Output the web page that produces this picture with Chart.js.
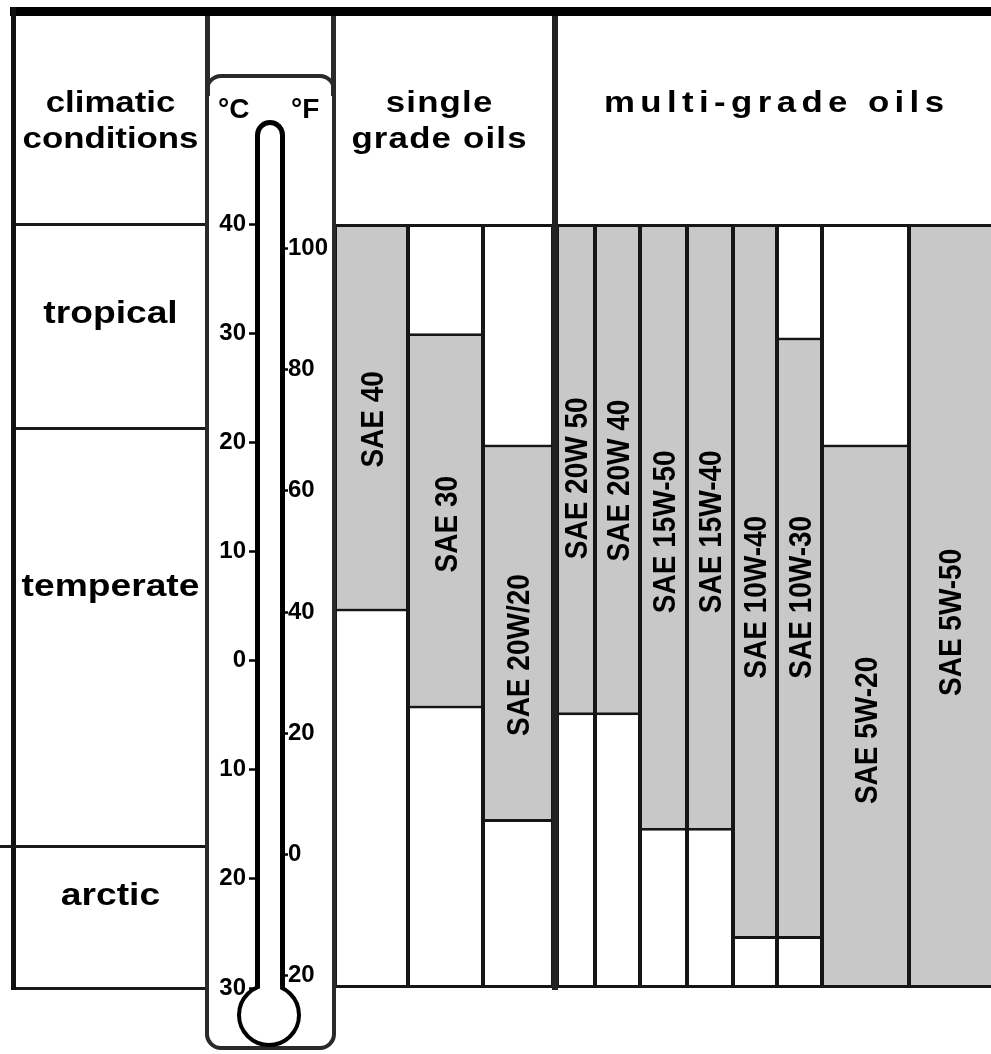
<!DOCTYPE html>
<html>
<head>
<meta charset="utf-8">
<title>Engine oil SAE grades by climatic conditions</title>
<script src="https://cdn.jsdelivr.net/npm/chart.js@4.4.1/dist/chart.umd.min.js"></script>
<style>
  html, body { margin:0; padding:0; background:#fff; }
  #page { position:relative; width:991px; height:1054px; overflow:hidden; background:#fff;
          font-family:"Liberation Sans", Arial, Helvetica, sans-serif; }
  #page canvas { position:absolute; left:0; top:0; }
  .txt { position:absolute; font-weight:bold; color:#000; text-align:center; white-space:nowrap; }
</style>
</head>
<body>
<div id="page">
  <canvas id="oilChart" width="991" height="1054"></canvas>
  <div id="decor"></div>
  <canvas id="thermoChart" width="991" height="1054"></canvas>
  <div id="texts"></div>
</div>
<script>
// ---------------- data ----------------
const grades = ['SAE 40', 'SAE 30', 'SAE 20W/20', 'SAE 20W 50', 'SAE 20W 40', 'SAE 15W-50',
                'SAE 15W-40', 'SAE 10W-40', 'SAE 10W-30', 'SAE 5W-20', 'SAE 5W-50'];
const singleGradeCount = 3;               // first three are single grade oils
const minTempC = [4.5, -4.4, -14.8, -5, -5, -15.6, -15.6, -25.5, -25.5, -30, -30];
const maxTempC = [40, 30, 19.8, 40, 40, 40, 40, 40, 29.6, 19.8, 40];
const celsiusTicks = [40, 30, 20, 10, 0, -10, -20, -30];
const fahrenheitTicks = [100, 80, 60, 40, 20, 0, -20];
const climateZones = ['tropical', 'temperate', 'arctic'];
const zoneBoundsC = [40, 21.3, -17, -30];
const scaleMinC = -30, scaleMaxC = 40;

// ---------------- layout (not data) ----------------
const PAGE_W = 991, PAGE_H = 1054;
const plotBox = { left: 335, top: 224, right: 991, bottom: 988 };
const columnWidths = [73, 75, 70, 38, 45, 47, 46, 44, 45, 87, 82];   // relative column widths
const groupGap = 4;
const labelAnchorC = [22.1, 12.5, 0.5, 16.7, 16.5, 11.8, 11.8, 5.8, 5.8, -6.4, 3.5];
const zoneLabelAnchorC = [31.9, 6.9, -21.4];

const FONT = '"Liberation Sans", Arial, Helvetica, sans-serif';
const GREY = '#c8c8c8';
const LINE = '#161616';
Chart.defaults.font.family = FONT;
Chart.defaults.color = '#000';

// column centres along a linear x axis
let pos = 0;
const centers = [];
columnWidths.forEach((w, i) => {
  if (i === singleGradeCount) pos += groupGap;
  centers.push(pos + w / 2);
  pos += w;
});
const xTotal = pos;
let minGap = xTotal;
for (let i = 1; i < centers.length; i++) minGap = Math.min(minGap, centers[i] - centers[i - 1]);

const datasets = [];
grades.forEach((g, i) => {
  const common = {
    borderColor: LINE,
    borderWidth: { left: 2, right: i === grades.length - 1 ? 0 : 2, top: 3, bottom: 3 },
    borderSkipped: false, grouped: false,
    categoryPercentage: 1, barPercentage: columnWidths[i] / minGap
  };
  datasets.push(Object.assign({
    label: g, gradeIndex: i, order: 0, backgroundColor: GREY,
    data: [{ x: centers[i], y: [minTempC[i], maxTempC[i]] }]
  }, common));
  datasets.push(Object.assign({
    label: g + ' (not suitable)', order: 1, backgroundColor: '#ffffff',
    data: [{ x: centers[i], y: [scaleMinC, scaleMaxC] }]
  }, common));
});

const gradeLabelPlugin = {
  id: 'gradeLabels',
  afterDatasetsDraw(chart) {
    const ctx = chart.ctx;
    const yS = chart.scales.y;
    chart.data.datasets.forEach((ds, di) => {
      if (ds.gradeIndex === undefined) return;
      const el = chart.getDatasetMeta(di).data[0];
      const cy = yS.getPixelForValue(labelAnchorC[ds.gradeIndex]);
      ctx.save();
      ctx.translate(el.x, cy);
      ctx.scale(1.1, 1);
      ctx.rotate(-Math.PI / 2);
      ctx.font = 'bold 28px ' + FONT;
      ctx.fillStyle = '#000';
      ctx.textAlign = 'center';
      ctx.textBaseline = 'alphabetic';
      ctx.fillText(grades[ds.gradeIndex], 0, 10);
      ctx.restore();
    });
  }
};

const oilChart = new Chart(document.getElementById('oilChart'), {
  type: 'bar',
  data: { datasets },
  options: {
    responsive: false, animation: false, events: [],
    layout: { padding: { left: plotBox.left, top: plotBox.top, right: PAGE_W - plotBox.right, bottom: PAGE_H - plotBox.bottom } },
    plugins: { legend: { display: false }, tooltip: { enabled: false } },
    scales: {
      x: { type: 'linear', min: 0, max: xTotal, display: false, offset: false, grid: { offset: false },
           afterBuildTicks: a => { a.ticks = [{ value: a.min }, { value: a.max }]; } },
      y: { type: 'linear', min: scaleMinC, max: scaleMaxC, display: false }
    }
  },
  plugins: [gradeLabelPlugin]
});

// ---------------- thermometer scales ----------------
const cToF = c => c * 9 / 5 + 32;
const tickFont = { size: 24, weight: 'bold', family: FONT };
const thermoChart = new Chart(document.getElementById('thermoChart'), {
  type: 'line',
  data: { datasets: [] },
  options: {
    responsive: false, animation: false, events: [],
    layout: { padding: { left: 205, right: PAGE_W - 336, top: plotBox.top, bottom: PAGE_H - plotBox.bottom } },
    plugins: { legend: { display: false }, tooltip: { enabled: false } },
    scales: {
      x: { type: 'linear', display: false, min: 0, max: 1 },
      yC: {
        type: 'linear', position: 'left', min: scaleMinC, max: scaleMaxC,
        afterBuildTicks: a => { a.ticks = celsiusTicks.map(v => ({ value: v })); },
        afterFit: a => { a.width = 52; },
        border: { display: false },
        grid: { drawOnChartArea: false, drawTicks: true, tickLength: 8, tickWidth: 2.5, tickColor: '#000' },
        ticks: { padding: 3, color: '#000', font: tickFont, autoSkip: false, callback: v => String(Math.abs(v)) }
      },
      yF: {
        type: 'linear', position: 'right', min: cToF(scaleMinC), max: cToF(scaleMaxC),
        afterBuildTicks: a => { a.ticks = fahrenheitTicks.map(v => ({ value: v })); },
        afterFit: a => { a.width = 53; },
        border: { display: false },
        grid: { drawOnChartArea: false, drawTicks: true, tickLength: 5, tickWidth: 2.5, tickColor: '#000' },
        ticks: { padding: 0, color: '#000', font: tickFont, autoSkip: false, callback: v => String(Math.abs(v)) }
      }
    }
  }
});

// ---------------- frame, thermometer body, headers ----------------
const yPx = v => oilChart.scales.y.getPixelForValue(v);
const xPx = v => oilChart.scales.x.getPixelForValue(v);
const decor = document.getElementById('decor');
const texts = document.getElementById('texts');
function el(parent, css, text) {
  const d = document.createElement('div');
  d.style.position = 'absolute';
  for (const k in css) d.style[k] = (typeof css[k] === 'number') ? css[k] + 'px' : css[k];
  if (text !== undefined) { d.className = 'txt'; d.textContent = text; }
  parent.appendChild(d);
  return d;
}

// outer borders
el(decor, { left: 10, top: 7, width: 981, height: 9, background: '#000' });
el(decor, { left: 11, top: 7, width: 5, height: yPx(scaleMinC) + 2 - 7, background: '#111' });
// thermometer column lines and frame
el(decor, { left: 205, top: 16, width: 5, height: 80, background: '#2a2a2a' });
el(decor, { left: 331, top: 16, width: 5, height: 80, background: '#2a2a2a' });
el(decor, { left: 205, top: 74, width: 131, height: 976, border: '4px solid #2a2a2a', borderRadius: '16px', boxSizing: 'border-box' });
// single / multi separator
const sepLeft = xPx(centers[singleGradeCount - 1] + columnWidths[singleGradeCount - 1] / 2);
const sepRight = xPx(centers[singleGradeCount] - columnWidths[singleGradeCount] / 2);
el(decor, { left: sepLeft - 1, top: 16, width: sepRight - sepLeft + 2, height: yPx(scaleMinC) + 2 - 16, background: '#222' });
// climatic zone lines
zoneBoundsC.forEach((b, i) => {
  const left = (i === 2) ? 0 : 16;
  el(decor, { left: left, top: yPx(b) - 1.5, width: 205 - left, height: 3, background: '#1a1a1a' });
});
// tube and bulb
el(decor, { left: 255, top: 120, width: 30, height: 875, border: '5px solid #000', borderBottom: 'none',
            borderRadius: '15px 15px 0 0', boxSizing: 'border-box' });
el(decor, { left: 237, top: 983, width: 64, height: 64, border: '4px solid #000', borderRadius: '50%',
            background: '#fff', boxSizing: 'border-box' });
el(decor, { left: 260, top: 975, width: 20, height: 14, background: '#fff' });

// headers (horizontally stretched bold sans, as in the original print)
function header(left, width, top, html, size, spacing) {
  const d = el(texts, { left: left, top: top, width: width, fontSize: size, lineHeight: '36px',
                        letterSpacing: spacing + 'px', paddingLeft: spacing + 'px', boxSizing: 'border-box',
                        transform: 'scaleX(1.2)', transformOrigin: '50% 50%' }, '');
  d.innerHTML = html;
  return d;
}
header(16, 189, 84, 'climatic<br>conditions', 29, 0);
header(336, 206, 84, 'single<br>grade oils', 29, 1);
header(557, 434, 84, 'multi-grade oils', 29, 4.5);
el(texts, { left: 218, top: 95, fontSize: 28, lineHeight: '28px' }, '°C');
el(texts, { left: 291, top: 95, fontSize: 28, lineHeight: '28px' }, '°F');
// zone labels
climateZones.forEach((z, i) => {
  el(texts, { left: 16, top: yPx(zoneLabelAnchorC[i]), width: 189, fontSize: 31, lineHeight: '31px',
              transform: 'translateY(-50%) scaleX(1.2)' }, z);
});
</script>
</body>
</html>
